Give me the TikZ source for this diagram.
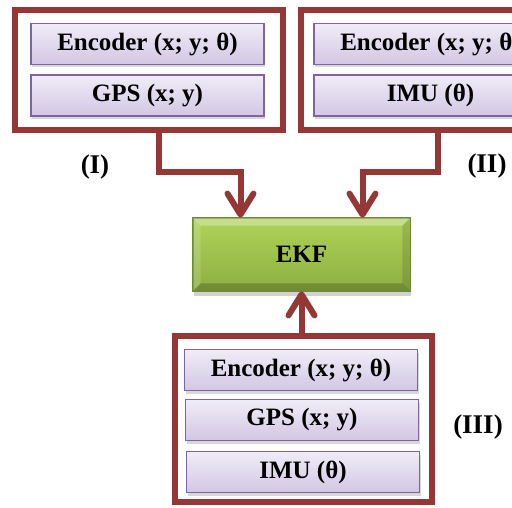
\documentclass[tikz,border=0pt]{standalone}
\usepackage{fontspec}
\setmainfont{Liberation Serif}
\usetikzlibrary{arrows.meta,shadows,calc}
\definecolor{frameRed}{HTML}{953735}
\definecolor{boxLine}{HTML}{8064A2}
\definecolor{boxTop}{HTML}{F0ECF7}
\definecolor{boxBot}{HTML}{D2C7E4}
\definecolor{ekfTop}{HTML}{B0D359}
\definecolor{ekfBot}{HTML}{8DAF42}
\definecolor{ekfLine}{HTML}{6E8A37}
\begin{document}
\begin{tikzpicture}[x=1pt,y=-1pt,
  frame/.style={draw=frameRed, line width=6.5pt, fill=white, inner sep=0pt},
  sensor/.style={draw=boxLine, line width=1.6pt, top color=boxTop, bottom color=boxBot,
    minimum width=233pt, minimum height=41pt, inner sep=0pt,
    font=\fontsize{25}{30}\selectfont\bfseries,
    drop shadow={opacity=0.3, shadow xshift=1pt, shadow yshift=-3pt}},
  ekfbox/.style={draw=ekfLine, line width=0.8pt, top color=ekfTop, bottom color=ekfBot,
    minimum width=217pt, minimum height=73pt, inner sep=0pt,
    font=\fontsize{25}{30}\selectfont\bfseries,
    drop shadow={opacity=0.35, shadow xshift=1pt, shadow yshift=-5pt}},
  lab/.style={font=\fontsize{27}{32}\selectfont\bfseries, inner sep=0pt},
  link/.style={draw=frameRed, line width=6pt,
    -{Straight Barb[length=21pt, width=26pt, round]}}
]
\useasboundingbox (0,0) rectangle (512,508);
\clip (0,0) rectangle (512,508);
\fill[white] (0,0) rectangle (512,508);

% group (I): encoder + GPS
\node[frame, minimum width=268pt, minimum height=120pt] (f1) at (149,70) {};
\node[sensor] (enc1) at (147.5,44) {Encoder (x; y; θ)};
\node[sensor] (gps1) at (147.5,95.5) {GPS (x; y)};

% group (II): encoder + IMU
\node[frame, minimum width=268pt, minimum height=120pt] (f2) at (435,70) {};
\node[sensor] (enc2) at (430.5,44) {Encoder (x; y; θ)};
\node[sensor] (imu2) at (430.5,95.5) {IMU (θ)};

% group (III): encoder + GPS + IMU
\node[frame, minimum width=257pt, minimum height=166pt] (f3) at (303.5,419) {};
\node[sensor] (enc3) at (301,370) {Encoder (x; y; θ)};
\node[sensor] (gps3) at (302,420) {GPS (x; y)};
\node[sensor] (imu3) at (303,472) {IMU (θ)};

% filter block with bevelled edges
\node[ekfbox] (ekf) at (301.5,254.5) {};
\fill[white, opacity=0.30] (ekf.north west) -- (ekf.north east)
  -- ([shift={(-8,8)}]ekf.north east) -- ([shift={(8,8)}]ekf.north west) -- cycle;
\fill[white, opacity=0.15] (ekf.north west) -- ([shift={(8,8)}]ekf.north west)
  -- ([shift={(8,-8)}]ekf.south west) -- (ekf.south west) -- cycle;
\fill[black, opacity=0.20] (ekf.south west) -- ([shift={(8,-8)}]ekf.south west)
  -- ([shift={(-8,-8)}]ekf.south east) -- (ekf.south east) -- cycle;
\fill[black, opacity=0.12] (ekf.north east) -- ([shift={(-8,8)}]ekf.north east)
  -- ([shift={(-8,-8)}]ekf.south east) -- (ekf.south east) -- cycle;
\draw[ekfLine, line width=0.8pt] (ekf.north west) rectangle (ekf.south east);
\node[font=\fontsize{25}{30}\selectfont\bfseries] at (ekf.center) {EKF};

% connectors
\draw[link] ([xshift=10pt]f1.south) -- ++(0,39) -| ([xshift=-61pt]ekf.north);
\draw[link] ([xshift=3pt]f2.south) -- ++(0,39) -| ([xshift=61pt]ekf.north);
\draw[link] (ekf.south |- f3.north) -- (ekf.south);

% group labels
\node[lab] (l1) at (95,167) {(I)};
\node[lab] (l2) at (487,166) {(II)};
\node[lab] (l3) at (478,427) {(III)};
\end{tikzpicture}
\end{document}
